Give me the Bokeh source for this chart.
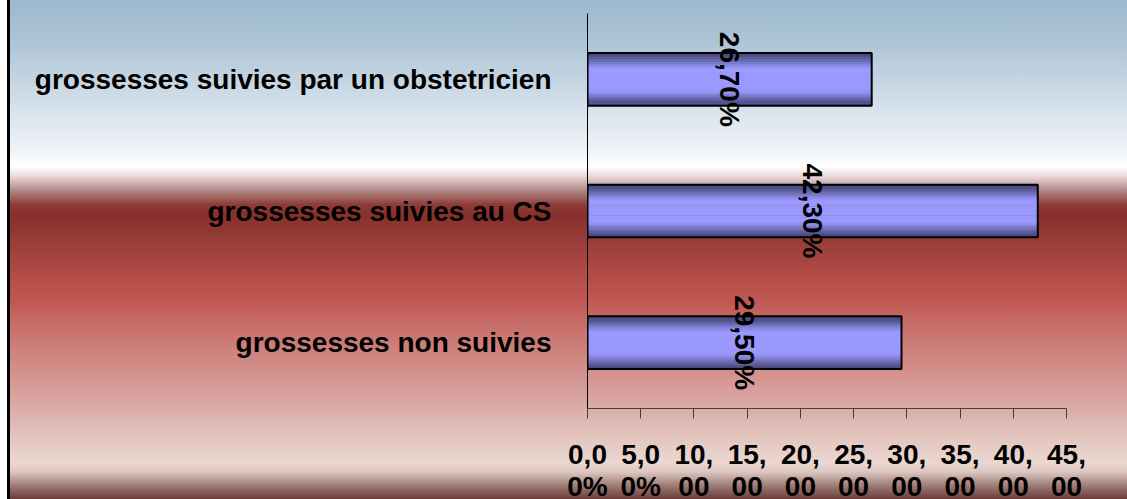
import numpy as np
from bokeh.plotting import figure
from bokeh.models import ColumnDataSource, FactorRange, Range1d, FixedTicker
from bokeh.transform import dodge
from bokeh.core.properties import value
from bokeh.embed import file_html
from bokeh.resources import INLINE

# ---- data ----
categories = ["grossesses suivies par un obstetricien",
              "grossesses suivies au CS",
              "grossesses non suivies"]
values = [26.7, 42.3, 29.5]
value_labels = ["26,70%", "42,30%", "29,50%"]
x_ticks = [0, 5, 10, 15, 20, 25, 30, 35, 40, 45]
x_tick_labels = ["0,0\n0%", "5,0\n0%", "10,\n00", "15,\n00", "20,\n00",
                 "25,\n00", "30,\n00", "35,\n00", "40,\n00", "45,\n00"]

FONT = "Liberation Sans"

p = figure(y_range=FactorRange(*categories[::-1]), x_range=Range1d(0, 45),
           frame_width=479, frame_height=395,
           min_border_left=587, min_border_right=61, min_border_top=13, min_border_bottom=0,
           output_backend="svg", toolbar_location=None)

p.background_fill_color = None
p.border_fill_color = None
p.outline_line_color = None

stops = [(0, "#9bb8cf"), (40, "#adc4d6"), (80, "#c4d5e2"), (120, "#dde7ef"),
         (150, "#eff3f7"), (167, "#ffffff"), (177, "#e8d5d4"), (190, "#b08a88"),
         (205, "#8e3a36"), (215, "#87302c"), (245, "#9a3f3a"), (275, "#b24c47"),
         (300, "#c05752"), (325, "#c76e69"), (355, "#cf8580"), (385, "#d69b97"),
         (415, "#dcb2ad"), (445, "#e5cbc4"), (463, "#ead8d0"), (472, "#dcc6bf"),
         (485, "#a07f7a"), (499, "#6b3c37")]
grad = ", ".join(f"{c} {y}px" for y, c in stops)
p.styles = {"background": "linear-gradient(to right, #fff 0px, #fff 7px, #000 7px, #000 10px, "
                          "transparent 10px), "
                          f"linear-gradient(to bottom, {grad})"}

src = ColumnDataSource(dict(cat=categories, val=values,
                            half=[v / 2 for v in values], lab=value_labels))

# gradient-shaded bars (strips)
bar_h = 0.4
n = 24
edge = np.array([0x48, 0x48, 0x7e])
center = np.array([0x99, 0x99, 0xff])
for i in range(n):
    off = -bar_h / 2 + (i + 0.5) * bar_h / n
    t = abs(off) / (bar_h / 2)
    s = max(0.0, (t - 0.35) / 0.65)
    s = s * s * (3 - 2 * s)
    c = center + (edge - center) * s
    col = "#%02x%02x%02x" % tuple(int(round(v)) for v in c)
    p.hbar(y=dodge("cat", off, range=p.y_range), right="val", left=0,
           height=bar_h / n * 1.2, source=src, fill_color=col, line_color=None)

p.hbar(y="cat", right="val", left=0, height=bar_h, source=src,
       fill_color=None, line_color="black", line_width=2)

p.text(x="half", y="cat", text="lab", source=src, angle=-np.pi / 2,
       text_align="center", text_baseline="middle",
       text_font=value(FONT), text_font_style="bold", text_font_size="28px",
       text_color="black")

p.xgrid.visible = False
p.ygrid.visible = False

xa = p.xaxis[0]
xa.ticker = FixedTicker(ticks=x_ticks)
xa.major_label_overrides = dict(zip(x_ticks, x_tick_labels))
xa.major_tick_out = 10
xa.major_tick_in = 0
xa.minor_tick_line_color = None
xa.axis_line_color = "#404040"
xa.major_tick_line_color = "#404040"
xa.major_label_text_font = FONT
xa.major_label_text_font_style = "bold"
xa.major_label_text_font_size = "28px"
xa.major_label_text_color = "black"
xa.major_label_text_line_height = 1.05
xa.major_label_standoff = 20

ya = p.yaxis[0]
ya.major_tick_line_color = None
ya.minor_tick_line_color = None
ya.axis_line_color = "black"
ya.major_label_text_font = FONT
ya.major_label_text_font_style = "bold"
ya.major_label_text_font_size = "28px"
ya.major_label_text_color = "black"
ya.major_label_standoff = 30

open("out.html", "w").write(file_html(p, INLINE))
